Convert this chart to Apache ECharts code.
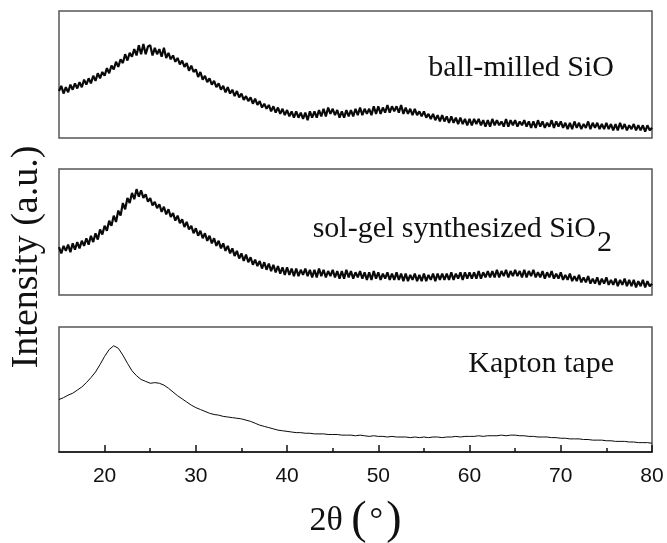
<!DOCTYPE html>
<html>
<head>
<meta charset="utf-8">
<script src="https://cdn.jsdelivr.net/npm/echarts@6/dist/echarts.min.js"></script>
<style>
  html, body { margin: 0; padding: 0; background: #fff; }
  #chart { width: 667px; height: 543px; }
</style>
</head>
<body>
<div id="chart"></div>
<script>
// 2θ sampling: start angle and steps (degrees)
const twoThetaStart = 15
const noisyStep = 0.25
const kaptonStep = 0.5

// intensities, in % of each panel height
const ballMilledSiO = [
  37, 41, 35, 40, 36, 42, 38, 43, 39, 44, 40, 46, 42, 47, 43, 49, 45, 51, 47, 52,
  49, 55, 51, 57, 54, 60, 56, 62, 59, 66, 61, 67, 64, 70, 65, 73, 66, 74, 66, 72,
  73, 65, 71, 66, 70, 64, 71, 63, 67, 62, 65, 60, 63, 58, 61, 56, 59, 53, 57, 52,
  54, 48, 52, 46, 49, 44, 47, 42, 45, 40, 43, 38, 41, 36, 40, 35, 38, 33, 37, 32,
  35, 30, 33, 29, 32, 27, 31, 26, 29, 24, 27, 23, 26, 21, 25, 20, 24, 19, 23, 18,
  22, 17, 21, 16, 21, 16, 20, 15, 20, 14, 21, 16, 21, 16, 22, 17, 23, 17, 24, 19,
  23, 18, 22, 16, 21, 16, 22, 17, 22, 17, 23, 18, 24, 18, 23, 19, 23, 18, 25, 19,
  25, 19, 24, 20, 26, 20, 25, 21, 25, 20, 26, 19, 24, 19, 23, 18, 23, 18, 21, 17,
  21, 16, 19, 15, 19, 14, 18, 13, 18, 13, 17, 12, 17, 12, 16, 11, 16, 11, 15, 10,
  15, 10, 15, 11, 15, 10, 14, 9, 14, 9, 15, 10, 14, 10, 13, 9, 15, 9, 14, 10,
  14, 9, 13, 10, 14, 9, 13, 8, 13, 8, 14, 9, 13, 8, 12, 9, 14, 8, 13, 9,
  13, 8, 12, 7, 12, 7, 13, 8, 12, 7, 11, 8, 13, 7, 12, 8, 12, 7, 11, 7,
  12, 7, 11, 6, 11, 6, 12, 7, 11, 6, 10, 7, 11, 6, 10, 6, 10, 5, 10, 6,
  8
]

const solGelSiO2 = [
  38, 33, 39, 35, 40, 34, 41, 36, 42, 37, 43, 39, 45, 40, 47, 42, 49, 44, 52, 48,
  55, 51, 59, 55, 63, 58, 67, 63, 73, 68, 77, 73, 81, 76, 84, 78, 83, 77, 80, 74,
  77, 71, 74, 69, 72, 66, 70, 64, 68, 62, 65, 59, 63, 57, 60, 54, 58, 52, 55, 49,
  53, 47, 51, 45, 49, 43, 47, 41, 45, 39, 43, 37, 41, 35, 39, 33, 37, 31, 35, 29,
  33, 27, 32, 26, 30, 24, 28, 23, 27, 21, 26, 20, 25, 19, 24, 18, 23, 17, 22, 16,
  22, 16, 21, 15, 21, 15, 20, 16, 21, 15, 20, 14, 20, 14, 21, 15, 20, 14, 19, 15,
  20, 14, 19, 13, 19, 13, 20, 14, 19, 13, 18, 14, 19, 13, 18, 12, 18, 12, 19, 13,
  18, 12, 17, 13, 18, 12, 17, 12, 18, 12, 17, 11, 17, 11, 16, 12, 17, 11, 16, 11,
  17, 11, 16, 12, 17, 11, 17, 12, 17, 12, 17, 12, 18, 12, 17, 13, 18, 12, 18, 13,
  18, 13, 18, 13, 19, 13, 18, 14, 19, 14, 19, 14, 20, 14, 19, 15, 20, 14, 19, 15,
  20, 15, 19, 14, 20, 14, 19, 15, 20, 14, 18, 14, 19, 13, 18, 14, 19, 13, 17, 13,
  18, 12, 16, 12, 17, 11, 15, 11, 16, 10, 14, 10, 15, 9, 13, 9, 14, 8, 13, 9,
  14, 8, 12, 8, 13, 7, 12, 8, 13, 7, 12, 7, 12, 6, 11, 7, 12, 6, 11, 7,
  9
]

const kaptonTape = [
  42, 43.5, 45.5, 47, 49.5, 52, 55.5, 59.5, 64, 70,
  76.5, 82, 85, 83, 77.5, 71, 65, 61, 58, 56.5,
  55, 55.5, 55, 53.5, 51, 48, 45, 42.5, 40, 37.5,
  35.5, 34, 32.5, 31, 30, 29.5, 28.5, 28, 27.5, 27,
  26.5, 25.5, 24.5, 23, 21.5, 20.5, 19.5, 18.5, 17.5, 17,
  16.5, 16, 15.5, 15.5, 15, 15, 14.5, 14.5, 14.5, 14,
  14, 14, 13.5, 13.5, 13.5, 13, 13.5, 13, 12.5, 13,
  12.5, 12.5, 12, 12.5, 12, 12, 12, 11.5, 12, 11.5,
  12, 11.5, 12, 12, 11.5, 12, 12, 12.5, 12, 12.5,
  12.5, 12.5, 13, 12.5, 13, 13, 13, 13.5, 13, 13.5,
  13.5, 13, 13, 12.5, 12.5, 12, 12, 12, 11.5, 11.5,
  11, 11, 10.5, 10.5, 10.5, 10, 10, 9.5, 9.5, 9.5,
  9, 9, 8.5, 8.5, 8.5, 8, 8, 7.5, 7.5, 7.5,
  7
]

const majorTicks = [20, 30, 40, 50, 60, 70, 80]
const minorTicks = [25, 35, 45, 55, 65, 75]
const panelLabels = ['ball-milled SiO', 'sol-gel synthesized SiO', 'Kapton tape']

const serif = '"Liberation Serif", "Times New Roman", serif'
const sans = '"Liberation Sans", Arial, sans-serif'

function toPairs(values, step) {
  return values.map((v, i) => [twoThetaStart + i * step, v])
}

const panels = [
  { top: 11, height: 127 },
  { top: 169, height: 126 },
  { top: 327, height: 125 }
]

const chart = echarts.init(document.getElementById('chart'), null, { renderer: 'canvas' })

const grids = panels.map((p) => ({
  left: 59,
  right: 15,
  top: p.top,
  height: p.height,
  show: true,
  borderColor: '#555',
  borderWidth: 1.5,
  backgroundColor: 'transparent',
  outerBoundsMode: 'none'
}))

const hiddenX = (i) => ({
  gridIndex: i,
  type: 'value',
  min: 15,
  max: 80,
  show: false
})

function makeSerie(idx, values, step, width) {
  return {
    type: 'line',
    xAxisIndex: idx,
    yAxisIndex: idx,
    data: toPairs(values, step),
    symbol: 'none',
    silent: true,
    lineStyle: { color: '#0a0a0a', width: width }
  }
}

chart.setOption({
  animation: false,
  backgroundColor: '#fff',
  grid: grids,
  xAxis: [
    hiddenX(0),
    hiddenX(1),
    {
      gridIndex: 2,
      type: 'value',
      min: 15,
      max: 80,
      position: 'bottom',
      axisLine: { show: true, onZero: false, lineStyle: { color: '#111', width: 1.5 } },
      axisTick: { show: true, inside: true, length: 7, customValues: majorTicks, lineStyle: { color: '#111', width: 1.5 } },
      axisLabel: { customValues: majorTicks, fontFamily: sans, fontSize: 21, color: '#111', margin: 14 },
      splitLine: { show: false },
      name: '{a|2θ }{p|(}{d|°}{p|)}',
      nameLocation: 'middle',
      nameGap: 46,
      nameTextStyle: {
        rich: {
          a: { fontFamily: serif, fontSize: 34, color: '#111' },
          d: { fontFamily: serif, fontSize: 34, color: '#111', padding: [0, 3, 0, 3] },
          p: { fontFamily: serif, fontSize: 46, color: '#111' }
        }
      }
    },
    {
      gridIndex: 2,
      type: 'value',
      min: 15,
      max: 80,
      position: 'bottom',
      axisLine: { show: false, onZero: false },
      axisTick: { show: true, inside: true, length: 4, customValues: minorTicks, lineStyle: { color: '#111', width: 1.5 } },
      axisLabel: { show: false },
      splitLine: { show: false }
    }
  ],
  yAxis: [0, 1, 2].map((i) => ({ gridIndex: i, type: 'value', min: 0, max: 100, show: false })),
  series: [
    makeSerie(0, ballMilledSiO, noisyStep, 2.2),
    makeSerie(1, solGelSiO2, noisyStep, 2.2),
    makeSerie(2, kaptonTape, kaptonStep, 1)
  ],
  graphic: [
    {
      type: 'text', x: 614, y: 53, silent: true,
      style: { text: panelLabels[0], font: '30px ' + serif, fill: '#111', align: 'right', verticalAlign: 'top' }
    },
    {
      type: 'text', x: 612, y: 214, silent: true,
      style: {
        text: '{m|' + panelLabels[1] + '}{s|2}',
        align: 'right',
        verticalAlign: 'top',
        rich: {
          m: { fontFamily: serif, fontSize: 30, fill: '#111', verticalAlign: 'top' },
          s: { fontFamily: serif, fontSize: 30, fill: '#111', verticalAlign: 'top', padding: [14, 0, 0, 1] }
        }
      }
    },
    {
      type: 'text', x: 614, y: 349, silent: true,
      style: { text: panelLabels[2], font: '30px ' + serif, fill: '#111', align: 'right', verticalAlign: 'top' }
    },
    {
      type: 'text', x: 27, y: 257, rotation: Math.PI / 2, silent: true,
      style: { text: 'Intensity (a.u.)', font: '38px ' + serif, fill: '#111', align: 'center', verticalAlign: 'middle' }
    }
  ]
})
</script>
</body>
</html>
